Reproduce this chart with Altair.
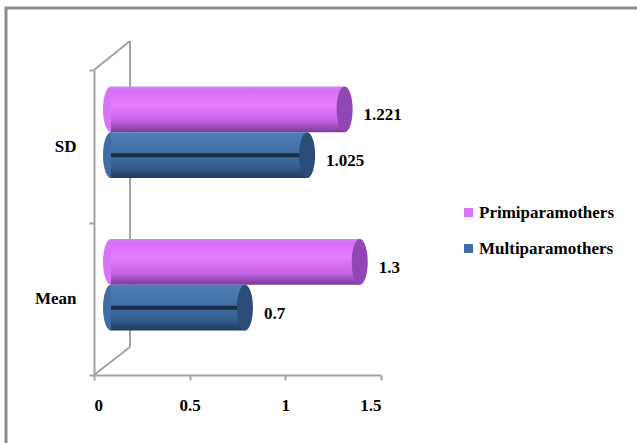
import altair as alt
import pandas as pd

# Chart values
categories = ["SD", "Mean"]
groups = ["Primiparamothers", "Multiparamothers"]
primi_values = [1.221, 1.3]
multi_values = [1.025, 0.7]
primi_labels = ["1.221", "1.3"]
multi_labels = ["1.025", "0.7"]
x_ticks = [0, 0.5, 1, 1.5]

rows = []
for i, cat in enumerate(categories):
    rows.append({"category": cat, "group": groups[0], "value": primi_values[i], "label": primi_labels[i]})
    rows.append({"category": cat, "group": groups[1], "value": multi_values[i], "label": multi_labels[i]})
df = pd.DataFrame(rows)

FONT = "Liberation Serif, Times New Roman, Times, serif"
AXIS_GREY = "#a3a3a3"
BASE_COLORS = ["#d874f7", "#3f6ea3"]
CAP_COLORS = ["#9146b3", "#2b4d78"]

# 3D offsets of the cylinders (pixels): right along x, up along y
DX, DY = 17, 14
H = 305

# elliptical cap, used for both ends of each cylinder
ELLIPSE = "M 0 -1 A 0.35 1 0 1 1 0 1 A 0.35 1 0 1 1 0 -1 Z"
CAP_SIZE = 2093

purple_grad = alt.LinearGradient(
    gradient="linear", x1=0, y1=0, x2=0, y2=1,
    stops=[
        alt.GradientStop(offset=0, color="#c98ae6"),
        alt.GradientStop(offset=0.08, color="#d86ff8"),
        alt.GradientStop(offset=0.4, color="#e67dff"),
        alt.GradientStop(offset=0.75, color="#c462e4"),
        alt.GradientStop(offset=1, color="#7a3a98"),
    ],
)
blue_grad = alt.LinearGradient(
    gradient="linear", x1=0, y1=0, x2=0, y2=1,
    stops=[
        alt.GradientStop(offset=0, color="#4d7fb6"),
        alt.GradientStop(offset=0.35, color="#4474aa"),
        alt.GradientStop(offset=0.75, color="#365f8f"),
        alt.GradientStop(offset=1, color="#1f3a5e"),
    ],
)

x_enc = alt.X(
    "value:Q",
    scale=alt.Scale(domain=[0, 1.5], nice=False, zero=True),
    axis=alt.Axis(
        values=x_ticks, labelExpr="'' + datum.value", title=None, grid=False,
        domainColor=AXIS_GREY, domainWidth=2, tickColor=AXIS_GREY, tickWidth=2,
        tickSize=5, labelPadding=17, labelFont=FONT, labelFontSize=17,
        labelFontWeight="bold", labelColor="black",
    ),
)

# category axis on the front plane: full-step bands, ticks between categories
axis_y = alt.Y(
    "category:N", sort=categories,
    scale=alt.Scale(paddingInner=0, paddingOuter=0),
    axis=alt.Axis(
        title=None, tickBand="extent", domainColor=AXIS_GREY, domainWidth=2,
        tickColor=AXIS_GREY, tickWidth=2, tickSize=5, labelPadding=13,
        labelFont=FONT, labelFontSize=17, labelFontWeight="bold",
        labelColor="black",
    ),
)
# bar bands, lifted by DY for the depth effect
bar_y = alt.Y(
    "category:N", sort=categories,
    scale=alt.Scale(paddingInner=0.4, paddingOuter=0.2, range=[-DY, H - DY]),
    axis=None,
)
yoff_enc = alt.YOffset("group:N", sort=groups, scale=alt.Scale(domain=groups, paddingInner=0, paddingOuter=0))

base = alt.Chart(df).encode(y=bar_y, yOffset=yoff_enc)
one = alt.Data(values=[{}])

# outer frame
frame = alt.Chart(one).mark_rect(fill="transparent", stroke="#8c8c8c", strokeWidth=3).encode(
    x=alt.value(-88), x2=alt.value(560), y=alt.value(-62), y2=alt.value(400)
)

# back wall of the 3D plot box
wall_v = alt.Chart(one).mark_rule(color=AXIS_GREY, strokeWidth=2).encode(
    x=alt.value(36), y=alt.value(-29), y2=alt.value(277)
)
wall_top = alt.Chart(one).mark_rule(color=AXIS_GREY, strokeWidth=2).encode(
    x=alt.value(0), x2=alt.value(36), y=alt.value(0), y2=alt.value(-29)
)
wall_floor = alt.Chart(one).mark_rule(color=AXIS_GREY, strokeWidth=2).encode(
    x=alt.value(0), x2=alt.value(36), y=alt.value(H), y2=alt.value(277)
)

# invisible marks that carry the category axis
axis_layer = alt.Chart(df).mark_point(opacity=0).encode(y=axis_y, x=alt.datum(0))

# rounded left ends (also carry the legend)
left_caps = base.mark_point(shape=ELLIPSE, filled=True, opacity=1, size=CAP_SIZE, xOffset=DX).encode(
    x=alt.datum(0),
    color=alt.Color(
        "group:N", sort=groups,
        scale=alt.Scale(domain=groups, range=BASE_COLORS),
        legend=alt.Legend(
            title=None, orient="none", legendX=366, legendY=134,
            symbolType="square", symbolSize=81, symbolStrokeWidth=0,
            labelFont=FONT, labelFontSize=17, labelFontWeight="bold",
            labelColor="black", rowPadding=18, symbolOffset=0, labelOffset=2,
        ),
    ),
)

primi_bar = base.transform_filter(alt.datum.group == groups[0]).mark_bar(
    color=purple_grad, xOffset=DX
).encode(x=x_enc)
multi_bar = base.transform_filter(alt.datum.group == groups[1]).mark_bar(
    color=blue_grad, xOffset=DX
).encode(x=x_enc)

# dark seam along the blue cylinders
seam = base.transform_filter(alt.datum.group == groups[1]).mark_bar(
    color="#1b2e48", height=4, xOffset=DX
).encode(x="value:Q")

primi_cap = base.transform_filter(alt.datum.group == groups[0]).mark_point(
    shape=ELLIPSE, filled=True, opacity=1, size=CAP_SIZE, color=CAP_COLORS[0], xOffset=DX
).encode(x="value:Q")
multi_cap = base.transform_filter(alt.datum.group == groups[1]).mark_point(
    shape=ELLIPSE, filled=True, opacity=1, size=CAP_SIZE, color=CAP_COLORS[1], xOffset=DX
).encode(x="value:Q")

labels = base.mark_text(
    align="left", baseline="middle", font=FONT, fontSize=17, fontWeight="bold",
    color="black", dx=36, dy=6,
).encode(x="value:Q", text="label:N")

chart = alt.layer(
    frame, wall_v, wall_top, wall_floor, axis_layer, left_caps, primi_bar, multi_bar,
    seam, primi_cap, multi_cap, labels,
).resolve_scale(y="independent").properties(
    width=287, height=H,
    padding={"left": 94, "top": 70, "right": 256, "bottom": 68},
    autosize="none", background="white",
).configure_view(strokeWidth=0)

chart.save("out.html", embed_options={"renderer": "svg", "actions": False})
